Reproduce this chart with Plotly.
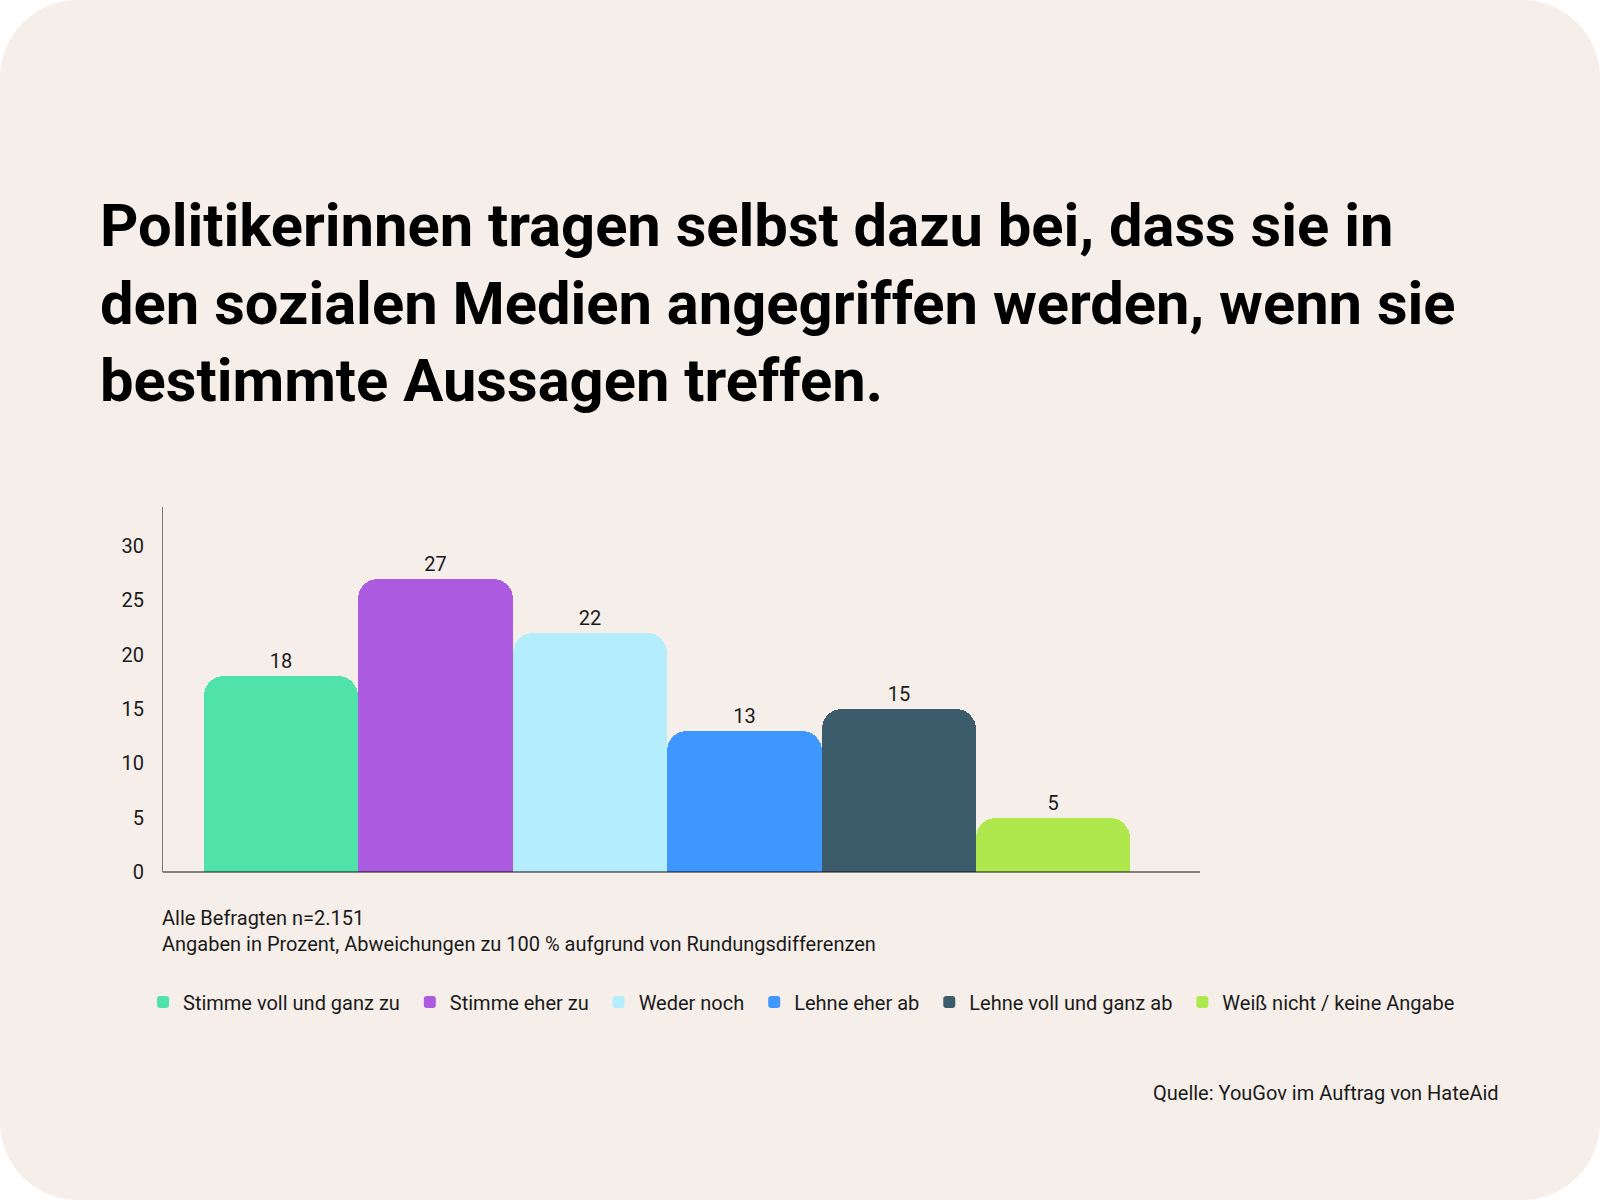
import plotly.graph_objects as go

# Data
categories = [
    "Stimme voll und ganz zu",
    "Stimme eher zu",
    "Weder noch",
    "Lehne eher ab",
    "Lehne voll und ganz ab",
    "Weiß nicht / keine Angabe",
]
values = [18, 27, 22, 13, 15, 5]
colors = ["#50E3A8", "#AC5BE1", "#B4EEFD", "#3D97FF", "#3C5C6C", "#AEE84C"]
y_ticks = [0, 5, 10, 15, 20, 25, 30]

title_lines = [
    "Politikerinnen tragen selbst dazu bei, dass sie in",
    "den sozialen Medien angegriffen werden, wenn sie",
    "bestimmte Aussagen treffen.",
]
note_lines = [
    "Alle Befragten n=2.151",
    "Angaben in Prozent, Abweichungen zu 100 % aufgrund von Rundungsdifferenzen",
]
source = "Quelle: YouGov im Auftrag von HateAid"

# Geometry (pixels). The plot area is wider than the drawn baseline so the
# horizontal legend fits on one row.
W, H = 1600, 1200
L, R, T, B = 163, 1560, 507, 872
AXIS_END = 1200
BAR_PX = 154.4
PW, PH = R - L, B - T
CARD = "#F5EEE9"
FONT = "Roboto"

x0_range = -0.766
x1_range = x0_range + PW / BAR_PX


def px_x(x):
    return (x - L) / PW


def px_y(y):
    return (B - y) / PH


def card_path(r=78):
    k = 0.5523 * r

    def p(x, y):
        return f"{px_x(x):.5f},{px_y(y):.5f}"
    pts = [
        "M" + p(r, 0),
        "L" + p(W - r, 0),
        "C" + p(W - r + k, 0) + " " + p(W, r - k) + " " + p(W, r),
        "L" + p(W, H - r),
        "C" + p(W, H - r + k) + " " + p(W - r + k, H) + " " + p(W - r, H),
        "L" + p(r, H),
        "C" + p(r - k, H) + " " + p(0, H - r + k) + " " + p(0, H - r),
        "L" + p(0, r),
        "C" + p(0, r - k) + " " + p(r - k, 0) + " " + p(r, 0),
    ]
    return " ".join(pts) + " Z"


fig = go.Figure()
for cat, val, col in zip(categories, values, colors):
    fig.add_trace(go.Bar(
        x=[cat], y=[val],
        name=cat + "\u00a0",  # a little extra space between legend entries
        marker=dict(color=col, line=dict(width=0), cornerradius=20),
        text=[str(val)], textposition="outside",
        textfont=dict(family=FONT, size=20, color="#1a1a1a"),
        cliponaxis=False,
    ))

fig.add_shape(type="path", path=card_path(), xref="paper", yref="paper",
              fillcolor=CARD, line=dict(width=0), layer="below")
# baseline
fig.add_shape(type="line", xref="paper", yref="paper",
              x0=0, x1=px_x(AXIS_END), y0=0, y1=0,
              line=dict(color="#111111", width=1), layer="above")

# title
fig.add_annotation(
    text="<br>".join(title_lines), xref="paper", yref="paper",
    x=px_x(98), y=px_y(303), xanchor="left", yanchor="middle",
    align="left", showarrow=False,
    font=dict(family=FONT, size=59.7, color="#000000", weight=700),
)
# notes
fig.add_annotation(
    text="<br>".join(note_lines), xref="paper", yref="paper",
    x=px_x(160), y=px_y(931), xanchor="left", yanchor="middle",
    align="left", showarrow=False,
    font=dict(family=FONT, size=20, color="#1a1a1a"),
)
# source
fig.add_annotation(
    text=source, xref="paper", yref="paper",
    x=px_x(1501), y=px_y(1093), xanchor="right", yanchor="middle",
    showarrow=False, font=dict(family=FONT, size=20, color="#1a1a1a"),
)

fig.update_layout(
    width=W, height=H,
    margin=dict(l=L, r=W - R, t=T, b=H - B),
    paper_bgcolor="white",
    plot_bgcolor="rgba(0,0,0,0)",
    barmode="overlay", bargap=0,
    font=dict(family=FONT, size=20, color="#1a1a1a"),
    showlegend=True,
    legend=dict(
        orientation="h", x=px_x(143), y=px_y(1002), xanchor="left", yanchor="middle",
        font=dict(family=FONT, size=20, color="#1a1a1a"),
        bgcolor="rgba(0,0,0,0)", traceorder="normal",
    ),
    xaxis=dict(
        range=[x0_range, x1_range], showticklabels=False, showgrid=False, zeroline=False,
        showline=False, ticks="", fixedrange=True,
    ),
    yaxis=dict(
        range=[0, 33.6], tickvals=y_ticks, showgrid=False, zeroline=False,
        showline=True, linecolor="#777777", linewidth=1, ticks="",
        ticklabelstandoff=14, tickfont=dict(family=FONT, size=20, color="#1a1a1a"),
        fixedrange=True,
    ),
)

fig.write_html("out.html", config={"displayModeBar": False},
               post_script="document.body.style.margin='0';")
